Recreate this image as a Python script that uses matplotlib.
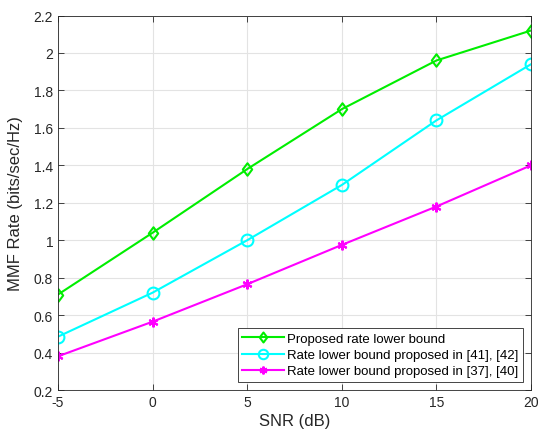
import matplotlib
matplotlib.use("Agg")
import matplotlib.pyplot as plt
from matplotlib.path import Path

snr = [-5, 0, 5, 10, 15, 20]
proposed = [0.71, 1.04, 1.38, 1.70, 1.96, 2.12]
bound_41_42 = [0.485, 0.72, 1.00, 1.295, 1.64, 1.94]
bound_37_40 = [0.38, 0.565, 0.765, 0.975, 1.18, 1.40]
labels = ["Proposed rate lower bound",
          "Rate lower bound proposed in [41], [42]",
          "Rate lower bound proposed in [37], [40]"]
xticks = [-5, 0, 5, 10, 15, 20]
yticks = [0.2, 0.4, 0.6, 0.8, 1.0, 1.2, 1.4, 1.6, 1.8, 2.0, 2.2]
yticklabels = ["0.2", "0.4", "0.6", "0.8", "1", "1.2", "1.4", "1.6", "1.8", "2", "2.2"]

plt.rcParams['font.family'] = ['Liberation Sans', 'DejaVu Sans']

diamond = Path([(0, 1), (0.75, 0), (0, -1), (-0.75, 0), (0, 1)],
               [Path.MOVETO, Path.LINETO, Path.LINETO, Path.LINETO, Path.CLOSEPOLY])

fig = plt.figure(figsize=(5.41, 4.39), dpi=100)
ax = fig.add_axes([0.1072, 0.1093, 0.8743, 0.853])

ax.plot(snr, proposed, color='#00ee00', lw=1.5, marker=diamond, ms=9, mfc='none', mew=1.5, label=labels[0])
ax.plot(snr, bound_41_42, color='#00ffff', lw=1.5, marker='o', ms=8.5, mfc='none', mew=1.5, label=labels[1])
ax.plot(snr, bound_37_40, color='#ff00ff', lw=1.5, marker=(6, 2, 0), ms=7, mew=1.5, label=labels[2])

ax.set_xlim(-5, 20)
ax.set_ylim(0.2, 2.2)
ax.set_xticks(xticks)
ax.set_xticklabels([str(x) for x in xticks])
ax.set_yticks(yticks)
ax.set_yticklabels(yticklabels)
ax.grid(True, color='#e3e3e3', lw=0.8)
ax.set_axisbelow(True)
ax.tick_params(direction='in', length=4, labelsize=10, colors='#262626', width=0.6, top=True, right=True)
for s in ax.spines.values():
    s.set_color('#262626')
    s.set_linewidth(0.6)
ax.set_xlabel("SNR (dB)", fontsize=12, color='#262626', labelpad=3)
ax.set_ylabel("MMF Rate (bits/sec/Hz)", fontsize=12, color='#262626', labelpad=8)

leg = ax.legend(loc='lower right', fontsize=9.5, frameon=True, fancybox=False,
                edgecolor='#262626', framealpha=1, borderpad=0.35, labelspacing=0.3,
                handlelength=3.2, handletextpad=0.2, borderaxespad=0.6,
                markerscale=0.8)
leg.get_frame().set_linewidth(0.6)

fig.savefig("out.png", dpi=100)
